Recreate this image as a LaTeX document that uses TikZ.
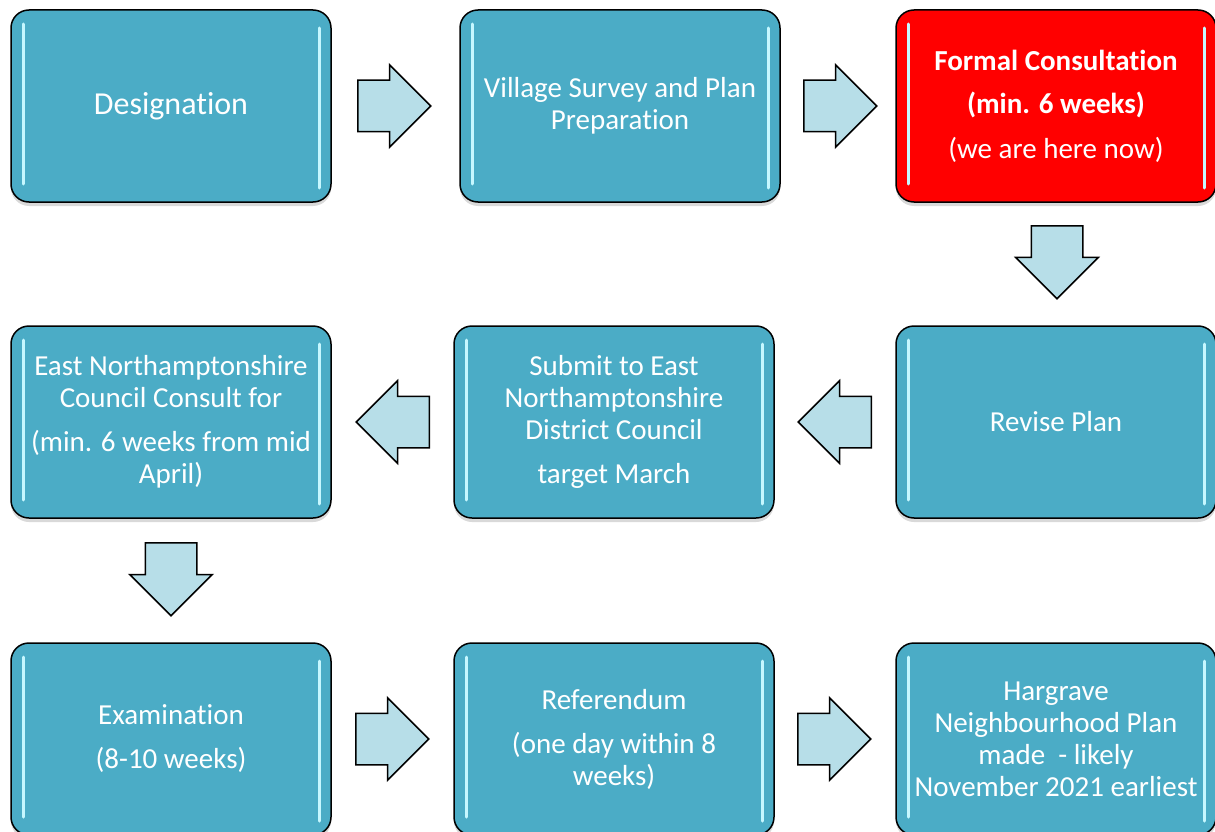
\documentclass[tikz,border=0pt]{standalone}
\usepackage{fontspec}
\setmainfont{Carlito}[RawFeature={-liga;-clig;-dlig;-calt;-rlig;-ccmp}]
\usetikzlibrary{shapes.arrows,shadows}
\definecolor{stagefill}{HTML}{4BACC6}
\definecolor{arrowfill}{HTML}{B7DEE8}
\definecolor{shine}{HTML}{C6F7FF}
\tikzset{
  stage/.style={draw=black, line width=1.5pt, fill=stagefill, rounded corners=18pt,
    minimum width=320pt, minimum height=192pt, inner sep=0pt,
    text=white, align=center, font=\fontsize{29}{32}\selectfont,
    drop shadow={opacity=0.3, shadow xshift=0pt, shadow yshift=-4pt},
    path picture={
      \draw[shine, line width=3pt, line cap=round]
        ([xshift=12pt,yshift=-14pt]path picture bounding box.north west) --
        ([xshift=12pt,yshift=18pt]path picture bounding box.south west);
      \draw[shine, line width=3pt, line cap=round]
        ([xshift=-12pt,yshift=-18pt]path picture bounding box.north east) --
        ([xshift=-12pt,yshift=14pt]path picture bounding box.south east);
    }},
  now/.style={stage, fill=red},
  go/.style={single arrow, draw=black, line width=1.5pt, fill=arrowfill,
    minimum height=73pt, minimum width=81pt, single arrow head extend=15.5pt,
    single arrow tip angle=90, inner xsep=0pt, inner ysep=25pt, anchor=tail},
  godown/.style={go, shape border rotate=270, inner xsep=25pt, inner ysep=0pt},
  goback/.style={go, shape border rotate=180},
}
\begin{document}
\begin{tikzpicture}[x=1pt, y=-1pt]
  \useasboundingbox (0,0) rectangle (1215,832);
  % first row
  \node[stage, font=\fontsize{32}{35}\selectfont] (desig) at (171,106) {Designation};
  \node[stage] (survey) at (620,106) {Village Survey and Plan\\Preparation};
  \node[now] (consult) at (1056,106)
    {\textbf{Formal Consultation}\\[11pt]\textbf{(min. 6 weeks)}\\[13pt](we are here now)};
  % second row
  \node[stage] (revise) at (1056,422) {Revise Plan};
  \node[stage] (submit) at (614,422)
    {Submit to East\\Northamptonshire\\District Council\\[12pt]target March};
  \node[stage] (council) at (171,422)
    {East Northamptonshire\\Council Consult for\\[12pt](min. 6 weeks from mid\\April)};
  % third row
  \node[stage] (exam) at (171,739) {Examination\\[12pt](8-10 weeks)};
  \node[stage] (refer) at (614,739) {Referendum\\[12pt](one day within 8\\weeks)};
  \node[stage] (made) at (1056,739)
    {Hargrave\\Neighbourhood Plan\\made \ - likely\\November 2021 earliest};
  % arrows, placed by their tails
  \node[go] (a1) at (357,106) {};
  \node[go] (a2) at (803,106) {};
  \node[godown] (a3) at (1057,225) {};
  \node[goback] (a4) at (872,422) {};
  \node[goback] (a5) at (430,422) {};
  \node[godown] (a6) at (171,542) {};
  \node[go] (a7) at (355,739) {};
  \node[go] (a8) at (797,739) {};
\end{tikzpicture}
\end{document}
